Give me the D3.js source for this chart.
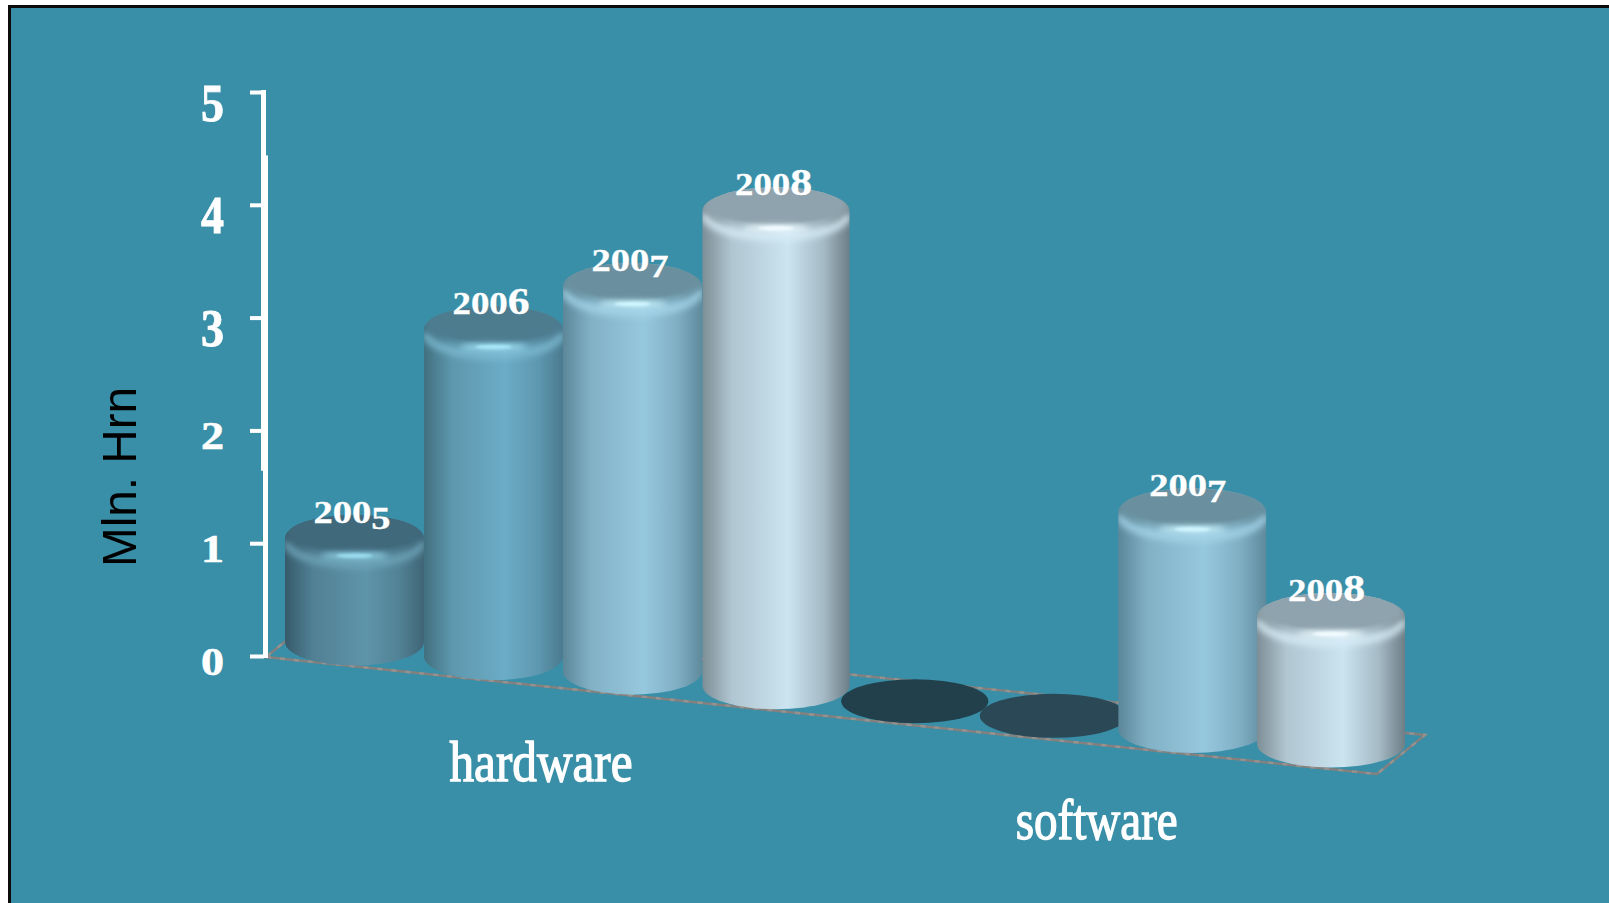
<!DOCTYPE html>
<html>
<head>
<meta charset="utf-8">
<script src="https://cdn.jsdelivr.net/npm/d3@7"></script>
<style>
  html, body { margin: 0; padding: 0; background: #fff; }
  svg { display: block; }
</style>
</head>
<body>
<svg id="chart" width="1609" height="903"></svg>
<script>
// Revenue by product group, million hryvnia
const groups = ["hardware", "software"];
const years = ["2005", "2006", "2007", "2008"];
const hardwareValues = [0.92, 2.9, 3.41, 4.21];
const softwareValues = [0, 0, 1.93, 1.13];
const tickValues = [0, 1, 2, 3, 4, 5];
const axisTitle = "Mln. Hrn";

// Shading per year: side edge, side centre, right edge, cap, rim, glint, flat disc
const sideLeft = ["#365a6a", "#41707f", "#5c8799", "#7d8e96"];
const sideMid = ["#5f95aa", "#6cacc6", "#96c8de", "#cbe4f0"];
const sideRight = ["#3f6576", "#4a7a8f", "#5f8a9c", "#6d7e86"];
const capFill = ["#41697b", "#4e7b8f", "#6a909f", "#8ea3ad"];
const rimFill = ["#6fa6bb", "#7dbbd3", "#a5d6ea", "#d8eef8"];
const glintFill = ["#9adbf0", "#a8e8fa", "#d0f6ff", "#f2fcff"];
const discFill = ["#22404c", "#2b4856"];

const width = 1609, height = 903;
const svg = d3.select("#chart");
const defs = svg.append("defs");

// Page with its dark frame
svg.append("rect").attr("width", width).attr("height", height).attr("fill", "#ffffff");
svg.append("rect").attr("x", 8).attr("y", 5).attr("width", width).attr("height", height).attr("fill", "#0c0c0c");
svg.append("rect").attr("x", 11).attr("y", 8).attr("width", width).attr("height", height).attr("fill", "#3a8fa8");

// Scales
const y = d3.scaleLinear().domain([0, 5]).range([656, 92]);
const slotX = d3.scaleLinear().domain([0, 2, 3, 7]).range([354.5, 632.5, 776, 1331]);
const slotR = d3.scaleLinear().domain([0, 2, 3, 7]).range([69.5, 69.5, 73.5, 74]);
const slotBase = d3.scaleLinear().domain([0, 7]).range([642, 744]);
const ry = 23.5;

const bars = [
  ...hardwareValues.map((v, i) => ({ group: 0, year: i, value: v })),
  ...softwareValues.map((v, i) => ({ group: 1, year: i, value: v }))
].map((d, i) => ({ ...d, slot: i }));

// Soft-edge filters, with regions generous enough for thin shapes
[["soft1", 1], ["soft3", 3], ["soft4", 4.5]].forEach(([id, s]) => {
  defs.append("filter").attr("id", id)
    .attr("x", "-30%").attr("y", "-300%").attr("width", "160%").attr("height", "700%")
    .append("feGaussianBlur").attr("stdDeviation", s);
});

// One horizontal gradient per year for the round sides
years.forEach((yr, i) => {
  const g = defs.append("linearGradient").attr("id", "side" + i);
  [[0, sideLeft[i]], [0.2, d3.interpolateRgb(sideLeft[i], sideMid[i])(0.65)],
   [0.58, sideMid[i]], [0.82, d3.interpolateRgb(sideMid[i], sideRight[i])(0.4)], [1, sideRight[i]]]
    .forEach(s => g.append("stop").attr("offset", s[0]).attr("stop-color", s[1]));
});

// Floor of the plot
const floorCorners = [[266, 657], [1377, 774], [1425, 735], [314, 618]];
const floorPath = d3.line()(floorCorners) + "Z";
svg.append("path").attr("d", floorPath)
  .attr("fill", "none").attr("stroke", "#85807e").attr("stroke-width", 2.4);
svg.append("path").attr("d", floorPath)
  .attr("fill", "none").attr("stroke", "#98928f").attr("stroke-width", 2.4).attr("stroke-dasharray", "5 9");

// Cylinders, drawn left to right so each overlaps its neighbour
const layer = svg.append("g");
bars.forEach(d => {
  const cx = slotX(d.slot), rx = slotR(d.slot), base = slotBase(d.slot);
  if (d.value === 0) {
    layer.append("ellipse")
      .attr("cx", cx).attr("cy", base + 1).attr("rx", rx).attr("ry", ry - 1.5)
      .attr("fill", discFill[d.year]);
    return;
  }
  const top = base - (y(0) - y(d.value));
  const outline = `M${cx - rx},${top}A${rx},${ry} 0 0 1 ${cx + rx},${top}` +
                  `L${cx + rx},${base}A${rx},${ry} 0 0 1 ${cx - rx},${base}Z`;
  defs.append("clipPath").attr("id", "clip" + d.slot).append("path").attr("d", outline);

  const g = layer.append("g");
  g.append("path").attr("d", outline).attr("fill", `url(#side${d.year})`);

  const inner = g.append("g").attr("clip-path", `url(#clip${d.slot})`);
  // pale band following the front of the rim
  inner.append("path")
    .attr("d", `M${cx - rx + 2},${top + 3}A${rx - 2},${ry} 0 0 0 ${cx + rx - 2},${top + 3}`)
    .attr("fill", "none").attr("stroke", rimFill[d.year]).attr("stroke-width", 8)
    .attr("stroke-opacity", 0.8).attr("filter", "url(#soft3)");
  // shoulder blending cap into the side
  inner.append("ellipse")
    .attr("cx", cx).attr("cy", top - 5).attr("rx", rx + 1).attr("ry", ry - 3)
    .attr("fill", capFill[d.year]).attr("fill-opacity", 0.85).attr("filter", "url(#soft3)");
  // flat cap
  inner.append("ellipse")
    .attr("cx", cx).attr("cy", top - 6).attr("rx", rx - 6).attr("ry", ry - 5)
    .attr("fill", capFill[d.year]).attr("filter", "url(#soft1)");
  // glint on the rim
  inner.append("ellipse")
    .attr("cx", cx).attr("cy", top + 17.5).attr("rx", 34).attr("ry", 3)
    .attr("fill", glintFill[d.year]).attr("filter", "url(#soft3)");
  inner.append("ellipse")
    .attr("cx", cx).attr("cy", top + 17.5).attr("rx", 18).attr("ry", 2)
    .attr("fill", glintFill[d.year]).attr("filter", "url(#soft1)");
});

// Year labels on the caps; figures are set old-style, with the tall and
// descending ones shifted from the baseline
const labels = svg.append("g").attr("fill", "#ffffff").attr("stroke", "#ffffff").attr("stroke-width", 0.3)
  .attr("font-family", "'Liberation Serif', serif").attr("font-weight", "bold");
bars.filter(d => d.value > 0).forEach(d => {
  const top = slotBase(d.slot) - (y(0) - y(d.value)) - ry;
  const text = labels.append("text")
    .attr("x", slotX(d.slot) - (d.group ? 43 : 41))
    .attr("y", top + 8)
    .attr("font-size", 32)
    .attr("textLength", 77)
    .attr("lengthAdjust", "spacingAndGlyphs");
  const yr = years[d.year], last = yr.slice(-1);
  text.append("tspan").text(yr.slice(0, -1));
  const tail = text.append("tspan").text(last);
  if (last === "6" || last === "8") tail.attr("font-size", 38);
  else tail.attr("dy", 6);
});

// Group names under the floor
const groupLabels = svg.append("g").attr("fill", "#ffffff").attr("stroke", "#ffffff").attr("stroke-width", 1.3)
  .attr("font-family", "'Liberation Serif', serif").attr("text-anchor", "middle");
groups.forEach((name, i) => {
  const slot = 1.5 + i * 3.97;
  groupLabels.append("text")
    .attr("x", slotX(slot) - 22)
    .attr("y", slotBase(slot) + 117)
    .attr("font-size", 56)
    .attr("textLength", i ? 162 : 183)
    .attr("lengthAdjust", "spacingAndGlyphs")
    .text(name);
});

// Value axis: ticks from d3, with the spine drawn in three offset runs
const axis = svg.append("g").attr("transform", "translate(264,0)")
  .call(d3.axisLeft(y).tickValues(tickValues).tickFormat(d3.format("d")).tickSize(14).tickPadding(26));
axis.select(".domain").remove();
axis.selectAll("line").attr("stroke", "#ffffff").attr("stroke-width", 4);
axis.selectAll("text")
  .attr("fill", "#ffffff")
  .attr("stroke", "#ffffff")
  .attr("stroke-width", 0.6)
  .attr("font-family", "'Liberation Serif', serif")
  .attr("font-weight", "bold")
  .attr("font-size", 40)
  .attr("dy", null)
  .attr("x", null)
  .attr("text-anchor", "end")
  .attr("transform", d => d >= 3 ? "translate(-40,28) scale(1.15,1.3)" : "translate(-40,18) scale(1.15,1)");

const spine = svg.append("g").attr("fill", "#ffffff");
[[261, 5, 5, 4.42], [261, 7, 4.42, 1.66], [263, 5, 1.66, 0]].forEach(([x0, w, from, to]) => {
  spine.append("rect").attr("x", x0).attr("width", w)
    .attr("y", y(from) - 2).attr("height", y(to) - y(from) + 4);
});

// Axis title
svg.append("text")
  .attr("transform", "translate(136,567) rotate(-90)")
  .attr("font-family", "'Liberation Sans', sans-serif")
  .attr("font-size", 49)
  .attr("textLength", 180)
  .attr("lengthAdjust", "spacingAndGlyphs")
  .attr("fill", "#000000")
  .text(axisTitle);
</script>
</body>
</html>
